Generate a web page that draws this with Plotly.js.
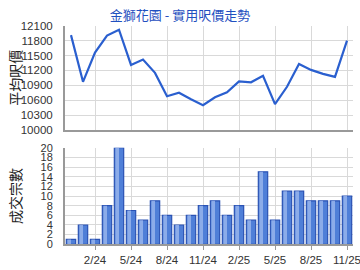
<!DOCTYPE html>
<html>
<head>
<meta charset="utf-8">
<script src="https://cdn.plot.ly/plotly-3.0.1.min.js"></script>
<style>html,body{margin:0;padding:0;background:#fff;}#chart{width:360px;height:270px;}</style>
</head>
<body>
<div id="chart"></div>
<script>
const months = ['12/23','1/24','2/24','3/24','4/24','5/24','6/24','7/24','8/24','9/24','10/24','11/24',
                '12/24','1/25','2/25','3/25','4/25','5/25','6/25','7/25','8/25','9/25','10/25','11/25'];
const avgPrice = [11910,10970,11560,11900,12020,11310,11420,11150,10680,10750,10620,10500,
                  10660,10760,10980,10960,11090,10520,10870,11330,11210,11130,11070,11800];
const deals = [1,4,1,8,20,7,5,9,6,4,6,8,9,6,8,5,15,5,11,11,9,9,9,10];
const tickMonths = ['2/24','5/24','8/24','11/24','2/25','5/25','8/25','11/25'];
const priceTicks = [10000,10300,10600,10900,11200,11500,11800,12100];
const dealTicks = [0,2,4,6,8,10,12,14,16,18,20];
const titleText = '金獅花園 - 實用呎價走勢';
const priceAxisTitle = '平均呎價';
const dealAxisTitle = '成交宗數';

const tickFont = {family:'Liberation Sans, Arial, sans-serif', size:11.5, color:'#333'};
const dealTickFont = {family:'Liberation Sans, Arial, sans-serif', size:11, color:'#333'};
const cjk = 'Noto Sans CJK TC, sans-serif';

const traces = [
  {x: months, y: avgPrice, type:'scatter', mode:'lines', xaxis:'x', yaxis:'y',
   line:{color:'#2a5fcf', width:2.2}, hoverinfo:'skip'},
  {x: months, y: deals, type:'bar', xaxis:'x2', yaxis:'y2', width:0.78,
   marker:{color:'#4f7fd8', line:{color:'#2a52b4', width:1.2}}, hoverinfo:'skip'},
  {x: months, y: deals, type:'bar', xaxis:'x2', yaxis:'y2', width:0.3, offset:-0.3,
   marker:{color:'rgba(150,180,236,0.85)', line:{width:0}}, hoverinfo:'skip'}
];

const xCommon = {type:'category', categoryorder:'array', categoryarray: months,
  range:[-0.5, 23.5], tickmode:'array', tickvals: tickMonths, ticktext: tickMonths,
  showgrid:true, gridcolor:'#d9d9d9', gridwidth:1, zeroline:false,
  showline:true, linecolor:'#999', linewidth:2, domain:[65/360, 353/360], fixedrange:true};

const topDom = [(270-130)/270, (270-25.7)/270];
const botDom = [(270-244.3)/270, (270-147.7)/270];

const layout = {
  width:360, height:270,
  margin:{l:0, r:0, t:0, b:0},
  paper_bgcolor:'#fff', plot_bgcolor:'#fff',
  showlegend:false,
  barmode:'overlay',
  title:{text:titleText, font:{family:cjk, size:13, color:'#1f50c0'},
         x:0.5, xanchor:'center', y:1-15/270, yanchor:'middle'},
  xaxis: Object.assign({}, xCommon, {anchor:'y', showticklabels:false, ticks:''}),
  xaxis2: Object.assign({}, xCommon, {anchor:'y2', showticklabels:true, ticks:'outside',
        ticklen:4, tickcolor:'#999', tickfont:tickFont}),
  yaxis: {domain:topDom, range:[10000,12100],
          tickmode:'array', tickvals: priceTicks, ticktext: priceTicks.map(String), tickfont:tickFont,
          showgrid:true, gridcolor:'#d9d9d9', zeroline:false,
          showline:true, linecolor:'#999', linewidth:2, ticks:'', ticklabelstandoff:8, fixedrange:true},
  yaxis2: {domain:botDom, range:[0,20],
          tickmode:'array', tickvals: dealTicks, ticktext: dealTicks.map(String), tickfont:dealTickFont,
          showgrid:true, gridcolor:'#d9d9d9', zeroline:false,
          showline:true, linecolor:'#999', linewidth:2, ticks:'', ticklabelstandoff:8, fixedrange:true},
  annotations: [
    {text:priceAxisTitle, xref:'paper', yref:'paper', x:15/360, y:(topDom[0]+topDom[1])/2,
     xanchor:'center', yanchor:'middle', textangle:-90, showarrow:false,
     font:{family:cjk, size:14, color:'#222'}},
    {text:dealAxisTitle, xref:'paper', yref:'paper', x:15/360, y:(botDom[0]+botDom[1])/2,
     xanchor:'center', yanchor:'middle', textangle:-90, showarrow:false,
     font:{family:cjk, size:14, color:'#222'}}
  ]
};

Plotly.newPlot('chart', traces, layout, {displayModeBar:false, staticPlot:true});
</script>
</body>
</html>
